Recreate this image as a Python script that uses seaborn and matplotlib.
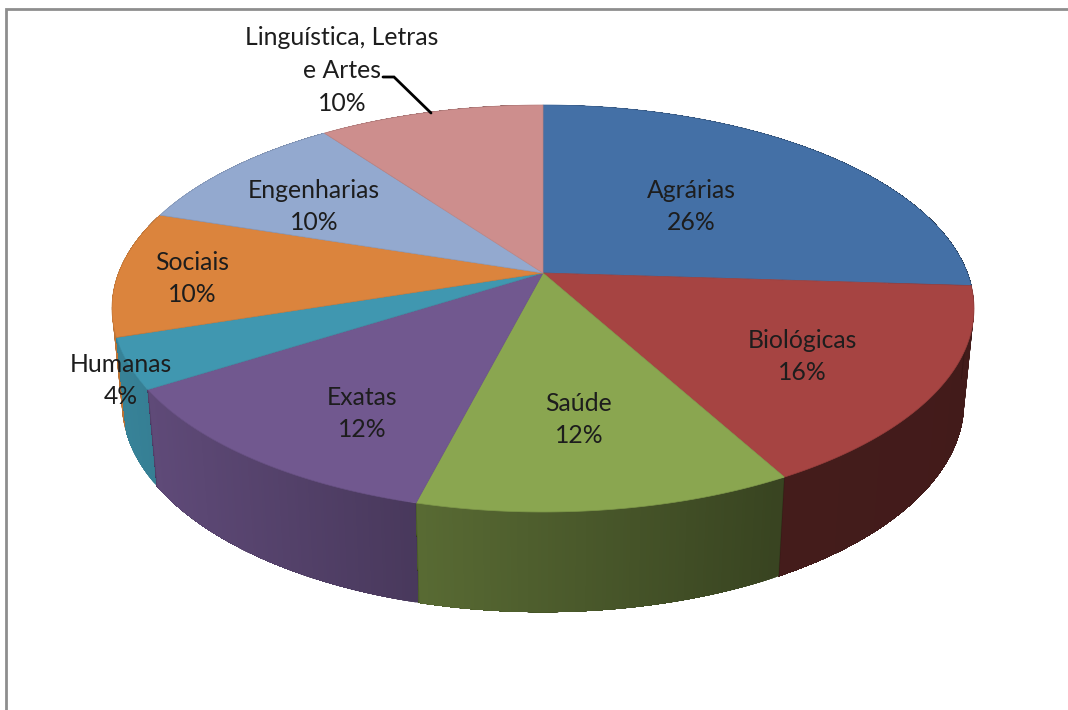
import numpy as np
import matplotlib
matplotlib.use("Agg")
import matplotlib.pyplot as plt
import seaborn as sns

categories = ["Agrárias", "Biológicas", "Saúde", "Exatas", "Humanas", "Sociais",
              "Engenharias", "Linguística, Letras\ne Artes"]
values = [26, 16, 12, 12, 4, 10, 10, 10]
top_colors = ["#4470a6", "#a64442", "#8aa650", "#71588f", "#4097b0", "#db843d", "#93a9cf", "#cd8e8d"]
label_x = [691, 802, 579, 362, 121, 192, 314, 342]
label_y = [206.5, 356.5, 419.5, 413.5, 380.5, 278.5, 206.5, 70.5]

sns.set_theme(style="white")
plt.rcParams["font.family"] = ["Lato", "DejaVu Sans"]
palette = sns.color_palette(top_colors)

W, H = 1068, 710
CX, CY = 543, 273
A, B, K = 424.4, 197.3, 0.1744
X_SHRINK, Y_GROW, DROP = 0.977, 1.03, 93


def project(theta, base=False):
    u, v = np.sin(theta), -np.cos(theta)
    den = 1 - K * v
    x, y = A * u / den, B * v / den
    if base:
        x, y = x * X_SHRINK, y * Y_GROW + DROP
    return CX + x, CY + y


def shade(x):
    return np.interp(x - CX, [-421, -125, 235, 421], [0.86, 0.64, 0.41, 0.40])


fig = plt.figure(figsize=(W / 100, H / 100), dpi=100, facecolor="white")
ax = fig.add_axes([0, 0, 1, 1])
ax.set_xlim(0, W)
ax.set_ylim(H, 0)
ax.axis("off")

frac = np.cumsum([0] + values) / sum(values) * 2 * np.pi
slices = list(zip(frac[:-1], frac[1:], palette))

# outer wall, far slices first; each shaded strip runs on to the slice's end
# and is painted over by the next, so no seams show
order = sorted(slices, key=lambda s: -np.cos((s[0] + s[1]) / 2))
for start, end, color in order:
    edges = np.linspace(start, end, max(8, int((end - start) * 150)))
    for t0, t1 in zip(edges[:-1], edges[1:]):
        tt = np.linspace(t0, end, 80)
        xt, yt = project(tt)
        xb, yb = project(tt[::-1], base=True)
        mid = project((t0 + t1) / 2)[0]
        c = tuple(np.array(color) * shade(mid))
        ax.fill(np.r_[xt, xb], np.r_[yt, yb], color=c, lw=0, zorder=2)

# wall seams at the front
for t in frac[1:5]:
    xt, yt = project(t)
    xb, yb = project(t, base=True)
    ax.plot([xt, xb], [yt, yb], color="#000000", alpha=0.12, lw=0.8, zorder=2.5)

# top faces
for start, end, color in slices:
    tt = np.linspace(start, end, 240)
    x, y = project(tt)
    ax.fill(np.r_[CX, x], np.r_[CY, y], facecolor=color,
            edgecolor=tuple(np.array(color) * 0.92), lw=0.5, zorder=3)

# labels
for name, val, lx, ly in zip(categories, values, label_x, label_y):
    ax.text(lx, ly, f"{name}\n{val}%", ha="center", va="center", ma="center",
            fontsize=17.8, color="#1d1d1d", linespacing=1.52, zorder=5)

# leader line of the last label
ax.plot([383, 394, 431], [77, 77, 113], color="black", lw=2, zorder=4,
        solid_joinstyle="miter")

# chart frame (only top and left are inside the picture)
ax.plot([6, 6, W], [H, 9, 9], color="#8e8e8e", lw=2, zorder=1, solid_joinstyle="miter")

fig.savefig("out.png", dpi=100, facecolor="white")
